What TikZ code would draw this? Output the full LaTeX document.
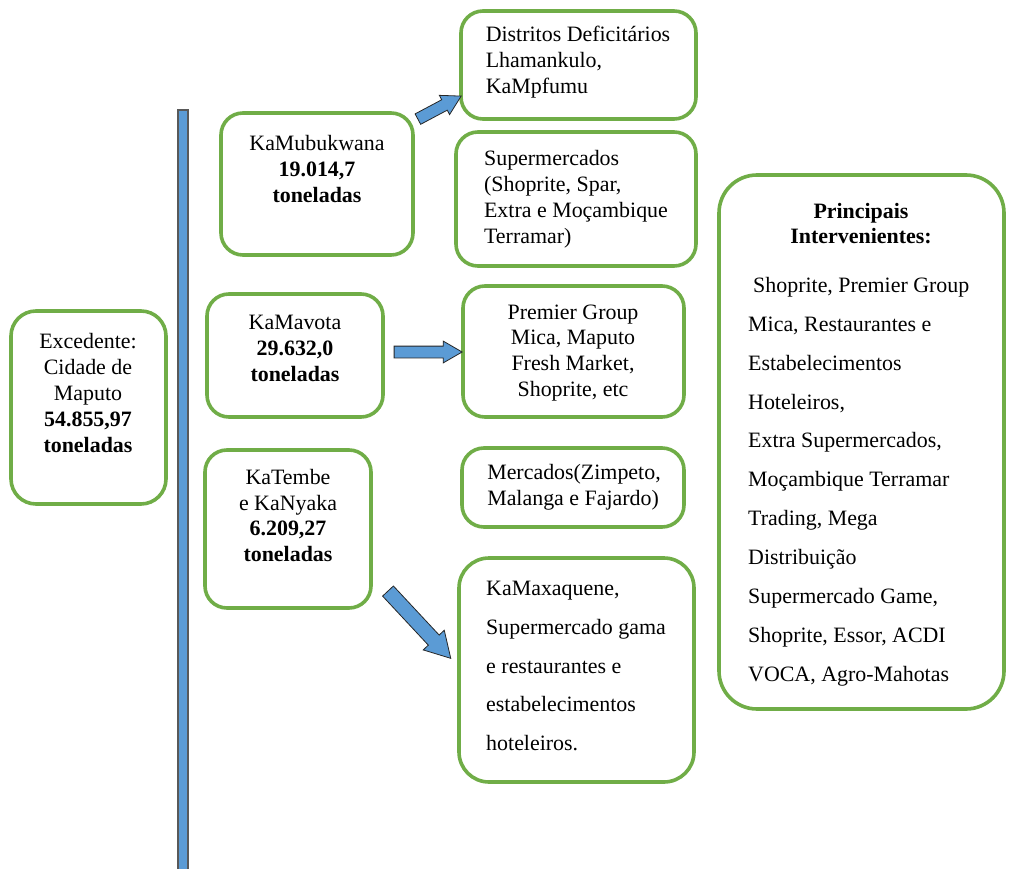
\documentclass[tikz,border=0pt]{standalone}
\usepackage{fontspec}
\setmainfont{Liberation Serif}
\usetikzlibrary{shapes.arrows,positioning}
\definecolor{boxgreen}{HTML}{70AD47}
\definecolor{arrblue}{HTML}{5B9BD5}
\tikzset{
  gbox/.style={rectangle, rounded corners=22bp, draw=boxgreen, line width=3.6bp, fill=white, inner sep=0pt},
  txt/.style={align=center, inner sep=0pt, font=\fontsize{22}{26}\selectfont},
  txtl/.style={txt, align=left},
  wide/.style={txtl, font=\fontsize{22}{39}\selectfont},
  blockarr/.style={single arrow, draw=black!85, line width=0.8bp, fill=arrblue, inner sep=0pt, inner ysep=5.5bp, single arrow head extend=5bp, single arrow tip angle=60, minimum width=21bp},
  bar/.style={draw=black!65, line width=1.5bp, fill=arrblue},
}

\begin{document}
\begin{tikzpicture}[x=1bp, y=-1bp]
\useasboundingbox (0,0) rectangle (1010,869);
% vertical bar
\draw[bar] (178,110) rectangle (188,875);
% left box
\node[gbox, minimum width=155bp, minimum height=193bp, rounded corners=25bp] (exced) at (88.5,407.5) {};
\node[txt] (excedtxt) at (88,393) {Excedente:\\Cidade de\\Maputo\\\textbf{54.855,97}\\\textbf{toneladas}};
% districts
\node[gbox, minimum width=192bp, minimum height=142bp] (mubuk) at (317,184) {};
\node[txt] (mubuktxt) at (317,169) {KaMubukwana\\\textbf{19.014,7}\\\textbf{toneladas}};
\node[gbox, minimum width=176bp, minimum height=123bp] (mavota) at (295,355.5) {};
\node[txt] (mavotatxt) at (295,348.5) {KaMavota\\\textbf{29.632,0}\\\textbf{toneladas}};
\node[gbox, minimum width=166bp, minimum height=158bp] (katembe) at (288,529) {};
\node[txt] (katembetxt) at (288,515.5) {KaTembe\\e KaNyaka\\\textbf{6.209,27}\\\textbf{toneladas}};
% destinations
\node[gbox, minimum width=235bp, minimum height=108bp] (distr) at (578.5,65) {};
\node[txtl] (distrtxt) at (578,62) {Distritos Deficitários\\Lhamankulo,\\KaMpfumu};
\node[gbox, minimum width=240bp, minimum height=134bp] (superm) at (576,199) {};
\node[txtl] (supermtxt) at (576,199) {Supermercados\\(Shoprite, Spar,\\Extra e Moçambique\\Terramar)};
\node[gbox, minimum width=221bp, minimum height=131bp] (premier) at (573.5,351.5) {};
\node[txt] (premiertxt) at (573,353) {Premier Group\\Mica, Maputo\\Fresh Market,\\Shoprite, etc};
\node[gbox, minimum width=222bp, minimum height=79bp] (merc) at (573,487.5) {};
\node[txtl] (merctxt) at (574,487) {Mercados(Zimpeto,\\Malanga e Fajardo)};
\node[gbox, minimum width=235bp, minimum height=224bp, rounded corners=30bp] (maxaq) at (576.5,670) {};
\node[wide] (maxaqtxt) at (576,666) {KaMaxaquene,\\Supermercado gama\\e restaurantes e\\estabelecimentos\\hoteleiros.};
% main actors
\node[gbox, minimum width=285bp, minimum height=534bp, rounded corners=38bp] (princ) at (861.5,442) {};
\node[txt] (princhead) at (861,223.5) {\textbf{Principais}\\\textbf{Intervenientes:}};
\node[wide, anchor=west] (princtxt) at (748,481.5) {\hspace*{5bp}Shoprite, Premier Group\\Mica, Restaurantes e\\Estabelecimentos\\Hoteleiros,\\Extra Supermercados,\\Moçambique Terramar\\Trading, Mega\\Distribuição\\Supermercado Game,\\Shoprite, Essor, ACDI\\VOCA, Agro-Mahotas};
% block arrows
\node[blockarr, minimum height=49bp, rotate=28] (arrup) at (435,110) {};
\node[blockarr, minimum height=68bp] (arrmid) at (423,352) {};
\node[blockarr, minimum height=92bp, inner ysep=7bp, single arrow head extend=7bp, minimum width=28bp, rotate=-47] (arrdown) at (415,620) {};
\end{tikzpicture}
\end{document}
